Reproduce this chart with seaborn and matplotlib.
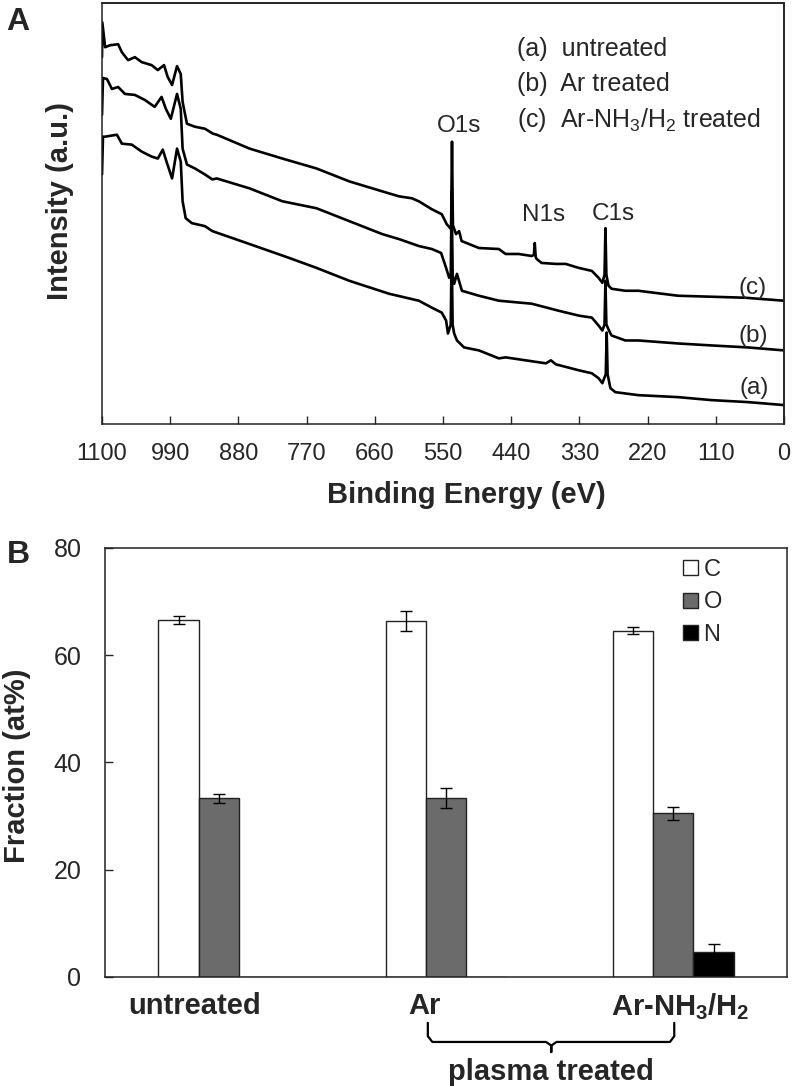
import numpy as np
import pandas as pd
import matplotlib
matplotlib.use("Agg")
import matplotlib.pyplot as plt
import matplotlib.transforms as mtransforms
from matplotlib.lines import Line2D
import seaborn as sns

sns.set_style("ticks")
plt.rcParams['font.family'] = ['Liberation Sans', 'DejaVu Sans']
plt.rcParams['mathtext.fontset'] = 'custom'
plt.rcParams['mathtext.rm'] = 'Liberation Sans'
plt.rcParams['mathtext.bf'] = 'Liberation Sans:bold'
plt.rcParams['mathtext.it'] = 'Liberation Sans:italic'

# ---- Panel A: XPS survey spectra (binding energy in eV, intensity in a.u.) ----
energy_c = [1100, 1099.5, 1095, 1087, 1074, 1068, 1058, 1047, 1036, 1020, 1010, 1000,
            994, 987, 979, 973, 970, 963, 950, 934, 921, 915, 862, 809, 754, 701, 648,
            621, 600, 589, 568, 552, 544, 537, 535.5, 534, 529, 524, 520, 492, 460, 449,
            428, 407, 403.5, 402, 400.5, 399, 391, 368, 352, 331, 310, 299, 293, 289.5,
            288, 286.5, 283, 278, 256, 235, 171, 117, 63, 0]
intensity_c = [369, 404, 379, 381, 382, 374, 366, 369, 364, 361, 356, 361,
               349, 341, 360, 352, 324, 302, 299, 297, 292, 291, 277, 267, 257, 244, 234,
               229, 227, 224, 216, 211, 201, 196, 284, 200, 191, 194, 184, 177, 176, 171,
               171, 169, 170, 182, 168, 166, 162, 161, 161, 157, 154, 147, 142, 150,
               197, 150, 139, 136, 134, 134, 129, 128, 127, 124]

energy_b = [1100, 1098.4, 1092, 1084, 1074, 1063, 1047, 1031, 1015, 1004, 997, 989,
            979, 973, 970, 963, 950, 934, 922, 915, 862, 809, 754, 701, 648, 621, 589,
            568, 553, 545, 540, 537.5, 536, 534.5, 532, 527.5, 519.5, 492, 460, 407,
            364, 331, 310, 299, 293, 289.5, 288, 286.5, 280, 278, 256, 235, 171, 117,
            58, 0]
intensity_b = [311, 348, 347, 337, 339, 332, 331, 326, 319, 329, 317, 307,
               332, 317, 277, 261, 257, 251, 246, 247, 237, 224, 217, 204, 191, 186, 179,
               176, 172, 157, 147, 150, 234, 150, 141, 151, 134, 129, 124, 121,
               114, 109, 107, 99, 94, 100, 144, 100, 91, 89, 84, 84, 81, 79,
               77, 74]

energy_a = [1100, 1098.4, 1095, 1076, 1068, 1052, 1036, 1020, 1010, 1002, 996, 987,
            979, 973, 970, 965, 955, 934, 922, 862, 798, 754, 701, 637, 589, 568, 552,
            545, 542, 537.5, 536, 534.5, 532, 527.5, 516, 492, 460, 449, 384, 376, 368,
            331, 310, 299, 293, 287.5, 286, 284.5, 280, 272, 235, 171, 117, 58, 0]
intensity_a = [251, 289, 289, 291, 282, 281, 274, 269, 267, 276, 264, 247,
               277, 264, 224, 207, 202, 199, 194, 181, 167, 157, 144, 131, 124, 117, 112,
               104, 91, 100, 179, 100, 91, 84, 77, 74, 66, 67, 61, 64, 60,
               54, 51, 46, 41, 50, 92, 50, 36, 32, 29, 27, 24, 22, 19]

energy_ticks = [1100, 990, 880, 770, 660, 550, 440, 330, 220, 110, 0]

# ---- Panel B: surface composition ----
treatments = ["untreated", "Ar", "Ar-NH3/H2"]
elements = ["C", "O", "N"]
c_frac = [66.6, 66.4, 64.6]
o_frac = [33.3, 33.4, 30.5]
n_frac = [0.0, 0.0, 4.7]
c_err = [0.8, 1.8, 0.6]
o_err = [0.8, 1.9, 1.2]
n_err = [0.0, 0.0, 1.4]
treatment_labels = ["untreated", "Ar", r"Ar-NH$_\mathbf{3}$/H$_\mathbf{2}$"]

fig = plt.figure(figsize=(7.92, 10.86), dpi=100)

# Panel A
ax1 = fig.add_axes([0.1288, 0.6096, 0.8611, 0.3872])
for en, inten in [(energy_a, intensity_a), (energy_b, intensity_b), (energy_c, intensity_c)]:
    sns.lineplot(x=en, y=inten, ax=ax1, color="black", linewidth=1.9, sort=False,
                 estimator=None)
ax1.set_xlim(1100, 0)
ax1.set_ylim(0, 423)
ax1.set_xticks(energy_ticks)
ax1.set_yticks([])
ax1.tick_params(axis="x", direction="in", length=6, width=1, labelsize=17, pad=14)
ax1.set_xlabel("")
ax1.set_ylabel("")
ax1.text(0.535, -0.168, "Binding Energy (eV)", transform=ax1.transAxes, ha="center",
         va="center", fontsize=21, fontweight="bold")
ax1.text(-0.062, 0.53, "Intensity (a.u.)", transform=ax1.transAxes, ha="center",
         va="center", fontsize=21, fontweight="bold", rotation=90)

legend_lines = ["(a)  untreated", "(b)  Ar treated", r"(c)  Ar-NH$_3$/H$_2$ treated"]
for txt, yy in zip(legend_lines, [0.891, 0.809, 0.723]):
    ax1.text(0.608, yy, txt, transform=ax1.transAxes, ha="left", va="center", fontsize=18)

ax1.text(524, 300, "O1s", ha="center", va="center", fontsize=17.5)
ax1.text(388, 210, "N1s", ha="center", va="center", fontsize=17.5)
ax1.text(275, 211, "C1s", ha="center", va="center", fontsize=17.5)
ax1.text(51, 137, "(c)", ha="center", va="center", fontsize=17.5)
ax1.text(50, 88, "(b)", ha="center", va="center", fontsize=17.5)
ax1.text(48, 36, "(a)", ha="center", va="center", fontsize=17.5)

# Panel B
df = pd.DataFrame({
    "treatment": treatments * 3,
    "element": ["C"] * 3 + ["O"] * 3 + ["N"] * 3,
    "fraction": c_frac + o_frac + n_frac,
})
ax2 = fig.add_axes([0.1326, 0.1004, 0.8611, 0.3950])
sns.barplot(data=df, x="treatment", y="fraction", hue="element", order=treatments,
            hue_order=elements, palette=["white", "#6b6b6b", "black"], width=0.53,
            edgecolor="#222222", linewidth=1.0, errorbar=None, ax=ax2)

for container, errs in zip(ax2.containers, [c_err, o_err, n_err]):
    for bar, e in zip(container, errs):
        if e > 0:
            ax2.errorbar(bar.get_x() + bar.get_width() / 2, bar.get_height(), yerr=e,
                         fmt="none", ecolor="black", elinewidth=1, capsize=4, capthick=1)

ax2.set_xlim(-0.5, 2.5)
ax2.set_ylim(0, 80)
ax2.set_yticks([0, 20, 40, 60, 80])
ax2.tick_params(axis="y", direction="in", length=6, width=1, labelsize=18, pad=17)
ax2.set_xticks([])
ax2.set_xlabel("")
ax2.set_ylabel("")

ax2.text(-0.129, 0.492, "Fraction (at%)", transform=ax2.transAxes, ha="center",
         va="center", fontsize=21, fontweight="bold", rotation=90)

blend = mtransforms.blended_transform_factory(ax2.transData, ax2.transAxes)
for i, (lab, off) in enumerate(zip(treatment_labels, [-0.106, -0.093, 0.031])):
    ax2.text(i + off, -0.068, lab, transform=blend, ha="center", va="center",
             fontsize=21, fontweight="bold")

# brace under the plasma treated groups
bx = [0.92, 0.92, 0.94, 1.44, 1.463, 1.463, 1.463, 1.486, 1.985, 2.004, 2.004]
by = [-0.107, -0.138, -0.1515, -0.1515, -0.160, -0.175, -0.160, -0.1515, -0.1515, -0.138, -0.107]
ax2.plot(bx, by, color="black", linewidth=1.6, transform=blend, clip_on=False)
ax2.text(1.463, -0.221, "plasma treated", transform=blend, ha="center", va="center",
         fontsize=21, fontweight="bold")

handles, labels = ax2.get_legend_handles_labels()
ax2.legend(handles, labels, loc="upper left", bbox_to_anchor=(0.848, 0.975),
           frameon=False, fontsize=17, handlelength=0.6, handleheight=0.6,
           handletextpad=0.25, labelspacing=0.45, borderaxespad=0, borderpad=0)

fig.text(18 / 792, 1 - 22 / 1086, "A", ha="center", va="center", fontsize=23,
         fontweight="bold")
fig.text(18 / 792, 1 - 555 / 1086, "B", ha="center", va="center", fontsize=23,
         fontweight="bold")

# full box frame on both panels
for ax in (ax1, ax2):
    for s in ax.spines.values():
        s.set_visible(True)
        s.set_linewidth(1.1)
        s.set_color("#222222")

# extra frame for panel A drawn at figure level
pos = ax1.get_position()
fig.add_artist(Line2D([pos.x0, pos.x1, pos.x1], [pos.y1, pos.y1, pos.y0],
                      transform=fig.transFigure, color="#222222", linewidth=1.2,
                      zorder=20))

fig.savefig("out.png", dpi=100)
